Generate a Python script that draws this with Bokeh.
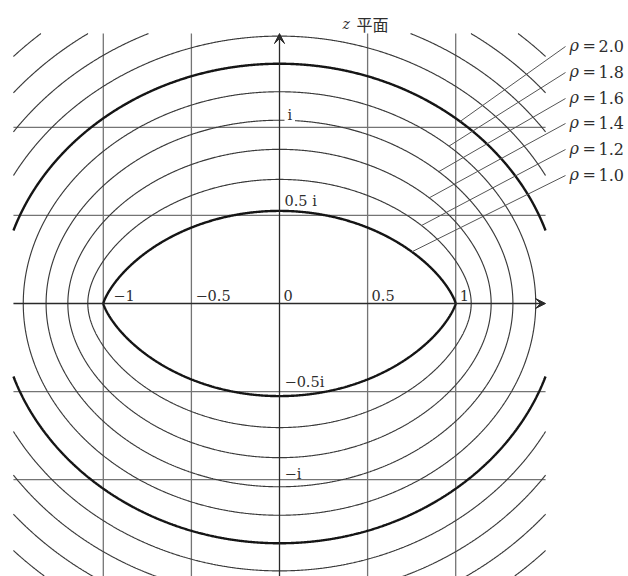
import numpy as np
from bokeh.plotting import figure
from bokeh.models import Arrow, VeeHead, Label, Range1d
from bokeh.embed import file_html
from bokeh.resources import INLINE

# ---------------- data ----------------
rho_levels = [1.0, 1.2, 1.4, 1.6, 1.8, 2.0, 2.2, 2.4, 2.6, 2.8]
thick_levels = [1.0, 2.0]
labeled_levels = [2.0, 1.8, 1.6, 1.4, 1.2, 1.0]
labeled_texts = ["2.0", "1.8", "1.6", "1.4", "1.2", "1.0"]
x_ticks = [-1.0, -0.5, 0.0, 0.5, 1.0]
x_tick_labels = ["\u22121", "\u22120.5", "0", "0.5", "1"]
y_ticks = [1.0, 0.5, -0.5, -1.0]
y_tick_labels = ["i", "0.5 i", "\u22120.5i", "\u2212i"]
grid_x = [-1.0, -0.5, 0.5, 1.0]
grid_y = [1.0, 0.5, -0.5, -1.0]
title_var = "z"
title_text = "平面"

# ---------------- layout ----------------
W, H = 628, 576
U = 176.2            # pixels per unit
OX, OY = 279, 303    # pixel position of the origin


def to_data(px, py):
    return (px - OX) / U, (OY - py) / U


XMIN, XMAX = -1.51, 1.51
YMIN, YMAX = (OY - H) / U, 1.532

p = figure(width=W, height=H, output_backend="svg", toolbar_location=None,
           x_range=Range1d((0 - OX) / U, (W - OX) / U),
           y_range=Range1d((OY - H) / U, OY / U),
           x_axis_location=None, y_axis_location=None,
           min_border=0, outline_line_color=None,
           background_fill_color="white", border_fill_color="white")
p.grid.visible = False


# ---------------- field whose level curves are drawn ----------------
def rho(z):
    a = z + 1
    b = z - 1
    ra = a.real * np.log(np.abs(a)) - a.imag * np.angle(a)
    rb = b.real * np.log(np.abs(b)) - b.imag * np.angle(b)
    return np.exp(0.5 * (ra - rb) - np.log(2.0))


xs = np.linspace(XMIN, XMAX, 601)
ys = np.linspace(YMIN, YMAX, 617)
X, Y = np.meshgrid(xs, ys)
Z = rho(X + 1j * Y)

# grid lines
grid_col = "#747474"
p.segment(x0=grid_x, y0=[YMIN] * len(grid_x), x1=grid_x, y1=[YMAX] * len(grid_x),
          line_color=grid_col, line_width=1.3)
p.segment(x0=[XMIN] * len(grid_y), y0=grid_y, x1=[XMAX] * len(grid_y), y1=grid_y,
          line_color=grid_col, line_width=1.3)

# contour curves
widths = [2.4 if lv in thick_levels else 1.15 for lv in rho_levels]
colors = ["#151515" if lv in thick_levels else "#3a3a3a" for lv in rho_levels]
p.contour(xs, ys, Z, rho_levels, line_color=colors, line_width=widths)

# axes with arrows
ax_col = "#2a2a2a"
p.add_layout(Arrow(end=VeeHead(size=10, fill_color=ax_col, line_color=ax_col),
                   x_start=XMIN, y_start=0, x_end=XMAX, y_end=0,
                   line_color=ax_col, line_width=1.3))
p.add_layout(Arrow(end=VeeHead(size=10, fill_color=ax_col, line_color=ax_col),
                   x_start=0, y_start=YMIN, x_end=0, y_end=YMAX,
                   line_color=ax_col, line_width=1.3))

txt_col = "#2e2e2e"
serif = "DejaVu Serif"

# x tick labels
x_lab_dx = [10, 4, 4, 4, 4]
for t, s, d in zip(x_ticks, x_tick_labels, x_lab_dx):
    p.add_layout(Label(x=t + d / U, y=3 / U, text=s, text_font=serif,
                       text_font_size="14.5px", text_color=txt_col,
                       text_baseline="bottom", text_align="left"))

# y tick labels (pixel centres)
y_lab_py = [114, 200, 381, 473]
for t, s, py in zip(y_ticks, y_tick_labels, y_lab_py):
    lab = Label(x=5 / U, y=(OY - py) / U, text=s, text_font=serif,
                text_font_size="14.5px", text_color=txt_col,
                text_baseline="middle", text_align="left")
    if s == "i":
        lab.background_fill_color = "white"
        lab.padding = 3
    p.add_layout(lab)

# title
tx, ty = to_data(342, 23)
p.add_layout(Label(x=tx, y=ty, text=title_var, text_font=serif,
                   text_font_style="italic", text_font_size="14px",
                   text_color=txt_col, text_baseline="middle"))
tx, ty = to_data(356, 23)
p.add_layout(Label(x=tx, y=ty, text=title_text, text_font="Noto Sans CJK JP",
                   text_font_size="16px", text_color=txt_col,
                   text_baseline="middle"))

# rho labels with leader lines
label_py = [45, 71, 97, 122, 148, 174]
leader_aim = [(468, 115), (451, 144), (442, 169), (433, 195), (421, 225), (414, 250)]
lx0, ly0, lx1, ly1 = [], [], [], []
for lv, s, py, aim in zip(labeled_levels, labeled_texts, label_py, leader_aim):
    x, y = to_data(569, py)
    p.add_layout(Label(x=x, y=y, text="\u03c1", text_font=serif,
                       text_font_style="italic", text_font_size="16px",
                       text_color=txt_col, text_baseline="middle"))
    x, y = to_data(582, py)
    p.add_layout(Label(x=x, y=y, text="=", text_font=serif,
                       text_font_size="16px", text_color=txt_col,
                       text_baseline="middle"))
    x, y = to_data(598, py)
    p.add_layout(Label(x=x, y=y, text=s, text_font=serif,
                       text_font_size="16px", text_color=txt_col,
                       text_baseline="middle"))
    sx, sy = to_data(565, py + 1)
    ex, ey = to_data(*aim)
    t = np.linspace(0, 1.4, 3000)
    px_ = sx + (ex - sx) * t
    py_ = sy + (ey - sy) * t
    r = rho(px_ + 1j * py_)
    k = int(np.argmax(r <= lv))
    lx0.append(sx); ly0.append(sy); lx1.append(px_[k]); ly1.append(py_[k])

p.segment(x0=lx0, y0=ly0, x1=lx1, y1=ly1, line_color="#555555", line_width=1.0)

open("out.html", "w").write(file_html(p, INLINE))
